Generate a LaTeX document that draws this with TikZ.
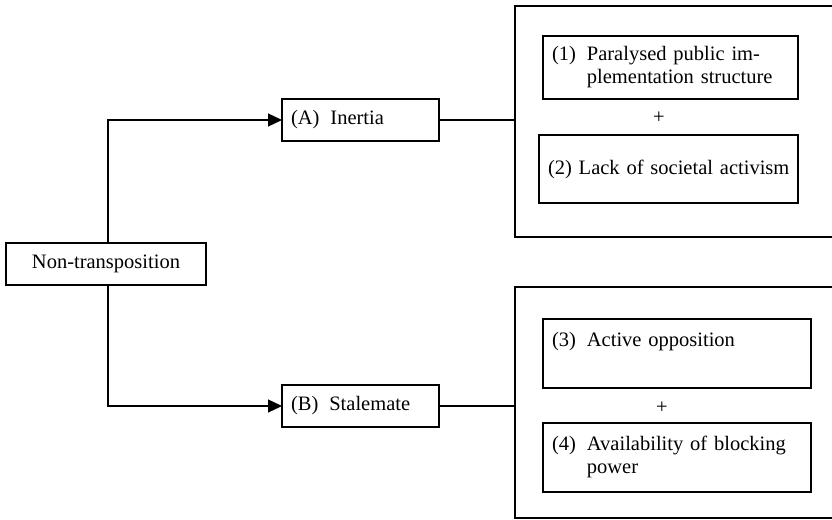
\documentclass[tikz,border=0pt]{standalone}
\usepackage{fontspec}
\setmainfont{Liberation Serif}
\usetikzlibrary{arrows.meta}
\newcommand{\hangrow}[2]{\begin{tabular}{@{}l@{\hspace{11pt}}l@{}}#1&#2\end{tabular}}
\begin{document}
\begin{tikzpicture}[x=1pt,y=-1pt,
  txt/.style={font=\fontsize{20.5}{23.5}\selectfont},
  box/.style={txt, draw, line width=1.3pt, inner xsep=9pt, inner ysep=0pt,
    outer sep=0pt, align=left},
  frame/.style={draw, line width=1.3pt, outer sep=0pt, inner sep=0pt,
    minimum width=330pt, minimum height=231pt},
  conn/.style={line width=1.3pt},
  arr/.style={conn, -{Triangle[length=14pt,width=13pt]}}]
\useasboundingbox (0,0) rectangle (832,519);

% left box
\node[box, align=center, minimum width=200pt, minimum height=42pt] (nt) at (106,264) {Non-transposition};

% middle boxes
\node[box, text width=139pt, minimum height=42pt] (inertia) at (360.5,120) {\hangrow{(A)}{Inertia}};
\node[box, text width=139pt, minimum height=42pt] (stal) at (360.5,406) {\hangrow{(B)}{Stalemate}};

% big frames
\node[frame] (big1) at (680,121.5) {};
\node[frame] (big2) at (680,402.5) {};

% inner boxes
\node[box, text width=237pt, minimum height=63pt] (c1) at (670.5,67.5)
  {\begin{tabular}{@{}l@{\hspace{11pt}}l@{}}(1)&Paralysed public im-\\&plementation structure\end{tabular}};
\node[txt] (p1) at (659,118) {+};
\node[box, text width=241pt, minimum height=68pt] (c2) at (668.5,169) {\mbox{(2) Lack of societal activism}};

\node[box, text width=250pt, minimum height=69pt] (c3) at (677,353.5)
  {\begin{tabular}{@{}l@{\hspace{11pt}}l@{}}(3)&Active opposition\\&\end{tabular}};
\node[txt] (p2) at (662,408) {+};
\node[box, text width=250pt, minimum height=69pt] (c4) at (677,457.5)
  {\begin{tabular}{@{}l@{\hspace{11pt}}l@{}}(4)&Availability of blocking\\&power\end{tabular}};

% connectors
\draw[arr] ([xshift=2pt]nt.north) |- (inertia.west);
\draw[arr] ([xshift=2pt]nt.south) |- (stal.west);
\draw[conn] (inertia.east) -- (inertia.east -| big1.west);
\draw[conn] (stal.east) -- (stal.east -| big2.west);
\end{tikzpicture}
\end{document}
